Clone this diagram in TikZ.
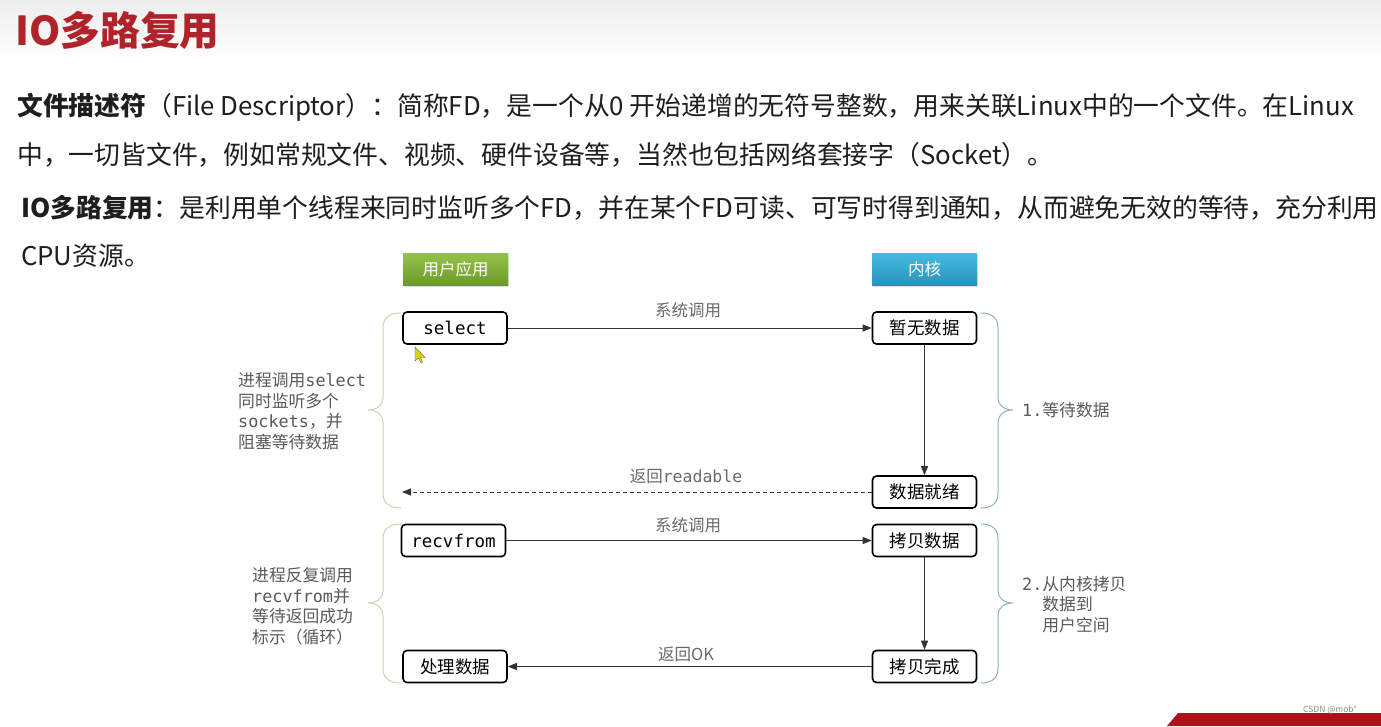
\documentclass[tikz,border=0pt]{standalone}
\usepackage{fontspec}
\setmainfont{Noto Sans CJK SC}
\newfontfamily\monof{DejaVu Sans Mono}
\usetikzlibrary{arrows.meta,shadows}
\definecolor{titlered}{HTML}{B0232B}
\definecolor{txt}{HTML}{1E1E1E}
\definecolor{gtxt}{HTML}{5A5A5A}
\definecolor{lblc}{HTML}{6A6A6A}
\definecolor{gtop}{HTML}{95C348}
\definecolor{gbot}{HTML}{6B9A2B}
\definecolor{btop}{HTML}{43BBE0}
\definecolor{bbot}{HTML}{2A92BC}
\definecolor{lbr}{HTML}{D4D0AE}
\definecolor{rbr}{HTML}{8DB3C3}
\definecolor{banner}{HTML}{B0101A}
\tikzset{
  para/.style={anchor=west, inner sep=0pt, text=txt, font=\fontsize{25.8}{28}\selectfont},
  hdr/.style={minimum width=105pt, minimum height=32pt, inner sep=0pt, text=white,
    font=\fontsize{16.5}{18}\selectfont, drop shadow={shadow xshift=1pt, shadow yshift=-2pt, opacity=0.25}},
  box/.style={draw=black, line width=1.6pt, rounded corners=4pt, minimum width=104pt,
    minimum height=32pt, inner sep=0pt, fill=white, font=\fontsize{17.5}{20}\selectfont},
  arr/.style={-{Triangle[length=9pt,width=7pt]}, line width=0.9pt, draw=black!80},
  lbl/.style={inner sep=0pt, text=lblc, font=\fontsize{16.5}{18}\selectfont},
  side/.style={inner sep=0pt, text=gtxt, align=left, anchor=west, font=\fontsize{16.8}{20.5}\selectfont},
  lbrace/.style={draw=lbr, line width=1pt},
  rbrace/.style={draw=rbr, line width=1pt}
}
\begin{document}
\begin{tikzpicture}[x=1pt,y=-1pt]
\useasboundingbox (0,0) rectangle (1381,726);
\fill[white] (0,0) rectangle (1381,726);
\shade[top color=black!7, bottom color=white] (0,0) rectangle (1381,60);

% title
\node[anchor=west, inner sep=0pt, text=titlered, font=\fontsize{39.8}{42}\selectfont\bfseries] (title) at (15,30) {IO多路复用};

% paragraphs
\node[para] (p1a) at (17,107) {\textbf{文件描述符}（File Descriptor）：简称FD，是一个从0 开始递增的无符号整数，用来关联Linux中的一个文件。在Linux};
\node[para] (p1b) at (17,155) {中，一切皆文件，例如常规文件、视频、硬件设备等，当然也包括网络套接字（Socket）。};
\node[para] (p2a) at (21,208) {\textbf{IO多路复用}：是利用单个线程来同时监听多个FD，并在某个FD可读、可写时得到通知，从而避免无效的等待，充分利用};
\node[para] (p2b) at (21,256) {CPU资源。};

% headers
\node[hdr, top color=gtop, bottom color=gbot] (user) at (455.5,269) {用户应用};
\node[hdr, top color=btop, bottom color=bbot] (kern) at (924.5,269) {内核};

% boxes
\node[box, font=\fontsize{17.5}{20}\monof] (sel) at (455,328) {select};
\node[box] (zw) at (924.5,328) {暂无数据};
\node[box] (jx) at (924.5,492) {数据就绪};
\node[box, font=\fontsize{17.5}{20}\monof] (rf) at (453.5,540.5) {recvfrom};
\node[box] (kb) at (924.5,540.5) {拷贝数据};
\node[box] (cl) at (455,666.5) {处理数据};
\node[box] (kw) at (924.5,666.5) {拷贝完成};
\coordinate (rd) at (402,492);

% arrows
\draw[arr] (sel) -- (zw);
\draw[arr] (zw) -- (jx);
\draw[arr, dash pattern=on 4pt off 3pt] (jx) -- (rd);
\draw[arr] (rf) -- (kb);
\draw[arr] (kb) -- (kw);
\draw[arr] (kw) -- (cl);

% arrow labels
\node[lbl] (l1) at (688,310) {系统调用};
\node[lbl] (l2) at (686,476) {返回{\monof readable}};
\node[lbl] (l3) at (688,525) {系统调用};
\node[lbl] (l4) at (686,654) {返回OK};

% braces
\draw[lbrace] (401,313) .. controls (389,313) and (383,318) .. (383,328) -- (383,398)
  .. controls (383,405) and (377,410) .. (368,410) .. controls (377,410) and (383,415) .. (383,422)
  -- (383,493) .. controls (383,503) and (389,508) .. (401,508);
\draw[rbrace] (981,313) .. controls (992,313) and (998,318) .. (998,328) -- (998,398)
  .. controls (998,405) and (1004,410) .. (1013,410) .. controls (1004,410) and (998,415) .. (998,422)
  -- (998,493) .. controls (998,503) and (992,508) .. (981,508);
\draw[lbrace] (401,524) .. controls (389,524) and (383,529) .. (383,539) -- (383,591)
  .. controls (383,598) and (377,603) .. (368,603) .. controls (377,603) and (383,608) .. (383,615)
  -- (383,668) .. controls (383,678) and (389,683) .. (401,683);
\draw[rbrace] (981,524) .. controls (992,524) and (998,529) .. (998,539) -- (998,591)
  .. controls (998,598) and (1004,603) .. (1013,603) .. controls (1004,603) and (998,608) .. (998,615)
  -- (998,668) .. controls (998,678) and (992,683) .. (981,683);

% side texts
\node[side] (s1) at (238,411.5) {进程调用{\monof select}\\同时监听多个\\{\monof sockets}，并\\阻塞等待数据};
\node[side] (s2) at (252,606) {进程反复调用\\{\monof recvfrom}并\\等待返回成功\\标示（循环）};
\node[side] (r1) at (1022,410) {{\monof 1.}等待数据};
\node[side] (r2) at (1022,604.5) {{\monof 2.}从内核拷贝\\{\monof\phantom{2.}}数据到\\{\monof\phantom{2.}}用户空间};

% cursor
\fill[yellow!70!olive, draw=black!60, line width=0.4pt] (415,347) -- (415,361) -- (418.5,358) -- (421,363) -- (422.5,362) -- (420.5,357.5) -- (425,357.5) -- cycle;

% watermark and banner
\fill[banner] (1167,726) -- (1178,713) -- (1381,713) -- (1381,726) -- cycle;
\node[inner sep=0pt, text=black!45, font=\fontsize{8.5}{9}\selectfont] (wm) at (1330,710) {CSDN @mob°};
\end{tikzpicture}
\end{document}
